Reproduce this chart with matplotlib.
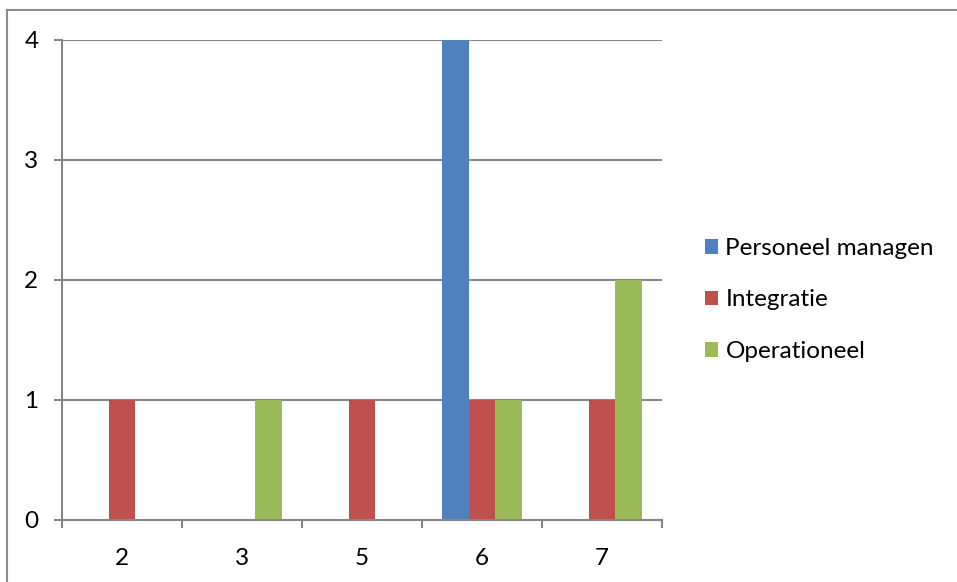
import matplotlib
matplotlib.use("Agg")
import matplotlib.pyplot as plt
import numpy as np
from matplotlib.patches import Patch
from matplotlib.lines import Line2D

plt.rcParams['font.family'] = ['Lato', 'DejaVu Sans']

categories = ["2", "3", "5", "6", "7"]
series_names = ["Personeel managen", "Integratie", "Operationeel"]
personeel = [0, 0, 0, 4, 0]
integratie = [1, 0, 1, 1, 1]
operationeel = [0, 1, 0, 1, 2]
colors = ["#4F81BD", "#C0504D", "#9BBB59"]
y_ticks = [0, 1, 2, 3, 4]

W, H = 957, 582
FS = 17.5
fig = plt.figure(figsize=(W / 100, H / 100), dpi=100)
fig.patch.set_facecolor("white")

ax = fig.add_axes([62 / W, 1 - 520 / H, 600 / W, 480 / H])

x = np.arange(len(categories))
bw = 1 / 4.5
data = [personeel, integratie, operationeel]
for i, (vals, c) in enumerate(zip(data, colors)):
    ax.bar(x + (i - 1) * bw, vals, width=bw, color=c, zorder=3, linewidth=0)

ax.set_xlim(-0.5, len(categories) - 0.5)
ax.set_ylim(0, 4)

grid_c = "#878787"
for v in y_ticks[1:]:
    ax.axhline(v, color=grid_c, lw=1.5, zorder=1)

for s in ["top", "right"]:
    ax.spines[s].set_visible(False)
for s in ["left", "bottom"]:
    ax.spines[s].set_color(grid_c)
    ax.spines[s].set_linewidth(1.5)
    ax.spines[s].set_zorder(4)

ax.set_yticks(y_ticks)
ax.set_yticklabels([str(v) for v in y_ticks])
ax.set_xticks(np.arange(-0.5, len(categories), 1.0), minor=False)
ax.set_xticklabels([""] * (len(categories) + 1))
ax.set_xticks(x, minor=True)
ax.set_xticklabels(categories, minor=True)
ax.tick_params(axis="x", which="major", length=6, width=1.5, color=grid_c)
ax.tick_params(axis="x", which="minor", length=0, pad=20, labelsize=FS)
ax.tick_params(axis="y", length=6, width=1.5, color=grid_c, pad=11, labelsize=FS)

handles = [Patch(facecolor=c, edgecolor="none") for c in colors]
fig.legend(handles, series_names, loc="center left",
           bbox_to_anchor=(695 / W, 1 - 300 / H), frameon=False,
           fontsize=FS, handlelength=0.55, handleheight=0.55,
           handletextpad=0.3, labelspacing=1.25, borderaxespad=0)

# outer chart frame
fig.add_artist(Line2D([7 / W, 7 / W], [0, 1 - 10 / H], color="#8c8c8c", lw=1.5, transform=fig.transFigure))
fig.add_artist(Line2D([7 / W, 1], [1 - 10 / H, 1 - 10 / H], color="#8c8c8c", lw=1.5, transform=fig.transFigure))

fig.savefig("out.png", dpi=100)
